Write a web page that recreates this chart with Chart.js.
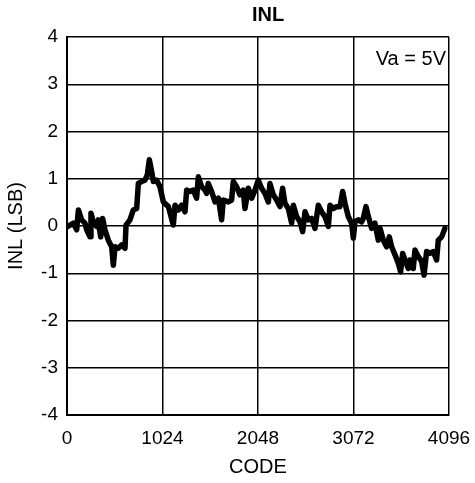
<!DOCTYPE html>
<html>
<head>
<meta charset="utf-8">
<script src="https://cdn.jsdelivr.net/npm/chart.js@4"></script>
<style>
  html, body { margin: 0; padding: 0; background: #fff; }
  #wrap { width: 475px; height: 483px; }
</style>
</head>
<body>
<div id="wrap"><canvas id="myChart"></canvas></div>
<script>
const codes = [
    0, 32, 68, 104, 122, 157, 193, 211, 247, 257, 282, 318, 336, 361, 382, 407,
    443, 479, 497, 515, 550, 586, 622, 633, 675, 711, 747, 765, 800, 836, 861,
    883, 908, 926, 961, 997, 1033, 1087, 1140, 1158, 1194, 1229, 1265, 1283,
    1319, 1354, 1390, 1408, 1444, 1480, 1497, 1515, 1551, 1587, 1623, 1658,
    1676, 1730, 1765, 1783, 1819, 1855, 1890, 1908, 1944, 1980, 2016, 2051,
    2087, 2123, 2159, 2176, 2212, 2248, 2284, 2312, 2337, 2373, 2409, 2427,
    2462, 2498, 2527, 2552, 2587, 2623, 2659, 2695, 2730, 2766, 2802, 2820,
    2855, 2891, 2927, 2956, 2981, 3016, 3052, 3070, 3088, 3124, 3159, 3177,
    3206, 3231, 3266, 3302, 3338, 3356, 3392, 3427, 3456, 3481, 3517, 3552,
    3577, 3599, 3624, 3660, 3677, 3713, 3731, 3767, 3803, 3828, 3856, 3892,
    3927, 3963, 3981, 4017, 4052
];

const inl = [
    -0.02, 0.02, 0.06, -0.08, 0.34, 0.13, 0.06, -0.08, -0.23, 0.27, 0.09, -0.01, 0.13, -0.23, 0.16, -0.08,
    -0.30, -0.44, -0.83, -0.44, -0.47, -0.40, -0.47, 0.02, 0.13, 0.34, 0.37, 0.90, 0.94, 0.97, 1.08,
    1.40, 1.15, 0.94, 0.97, 0.83, 0.51, 0.41, 0.02, 0.44, 0.34, 0.44, 0.30, 0.76,
    0.73, 0.76, 0.59, 1.04, 0.83, 0.76, 0.69, 0.90, 0.73, 0.51, 0.59, 0.13,
    0.55, 0.51, 0.55, 0.94, 0.83, 0.66, 0.76, 0.37, 0.80, 0.59, 0.76, 0.97,
    0.80, 0.69, 0.51, 0.90, 0.66, 0.55, 0.41, 0.80, 0.48, 0.37, 0.06, 0.44,
    0.20, 0.09, -0.12, 0.30, 0.13, 0.16, -0.05, 0.44, 0.30, 0.20, -0.01, 0.44,
    0.37, 0.41, 0.41, 0.73, 0.48, 0.20, 0.06, -0.26, 0.09, 0.13, 0.09, 0.16,
    0.41, 0.20, -0.05, 0.06, -0.30, -0.05, -0.30, -0.44, -0.23, -0.44, -0.61, -0.79,
    -0.97, -0.58, -0.72, -0.90, -0.72, -0.90, -0.51, -0.65, -0.75, -1.04, -0.54, -0.58,
    -0.54, -0.72, -0.30, -0.23, -0.05
];

const xTicks = [0, 1024, 2048, 3072, 4096];
const yTicks = [-4, -3, -2, -1, 0, 1, 2, 3, 4];

const FONT = 'Liberation Sans, Arial, sans-serif';

// chart title and the Va label, drawn as canvas text
const textLabels = {
    id: 'textLabels',
    afterDraw(chart) {
        const ctx = chart.ctx;
        const area = chart.chartArea;
        ctx.save();
        ctx.fillStyle = '#000';
        ctx.textBaseline = 'middle';
        ctx.textAlign = 'center';
        ctx.font = 'bold 20px ' + FONT;
        ctx.fillText('INL', 268, 15);
        ctx.textAlign = 'right';
        ctx.font = '20px ' + FONT;
        ctx.fillText('Va = 5V', area.right - 3, area.top + 22);
        ctx.restore();
    }
};

const data = {
    datasets: [{
        label: 'INL',
        data: codes.map((c, i) => ({x: c, y: inl[i]})),
        borderColor: '#000',
        backgroundColor: '#000',
        borderWidth: 5.5,
        borderJoinStyle: 'round',
        borderCapStyle: 'round',
        pointRadius: 0,
        tension: 0,
        fill: false,
    }]
};

const config = {
    type: 'line',
    data: data,
    options: {
        responsive: true,
        maintainAspectRatio: false,
        animation: false,
        layout: {
            padding: {top: 37, right: 26, left: 0, bottom: 0}
        },
        plugins: {
            legend: {display: false},
            tooltip: {enabled: false},
            title: {display: false}
        },
        scales: {
            x: {
                type: 'linear',
                min: 0,
                max: 4096,
                afterBuildTicks: (s) => { s.ticks = xTicks.map(v => ({value: v})); },
                afterFit: (s) => { s.height = 68; s.paddingRight = 0; },
                grid: {color: '#000', lineWidth: 1.5, drawTicks: false},
                border: {color: '#000', width: 2},
                ticks: {
                    color: '#000',
                    font: {size: 19, family: FONT},
                    padding: 12,
                    maxRotation: 0,
                    callback: (v) => String(v)
                },
                title: {display: true, text: 'CODE', color: '#000', font: {size: 20, family: FONT}, padding: {top: 6}}
            },
            y: {
                min: -4,
                max: 4,
                afterBuildTicks: (s) => { s.ticks = yTicks.map(v => ({value: v})); },
                afterFit: (s) => { s.width = 67; },
                grid: {color: '#000', lineWidth: 1.5, drawTicks: false},
                border: {color: '#000', width: 2},
                ticks: {color: '#000', font: {size: 19, family: FONT}, padding: 9},
                title: {display: true, text: 'INL (LSB)', color: '#000', font: {size: 20, family: FONT}, padding: {top: 4, bottom: 0}}
            }
        }
    },
    plugins: [textLabels]
};

const myChart = new Chart(
    document.getElementById('myChart'),
    config
);
</script>
</body>
</html>
